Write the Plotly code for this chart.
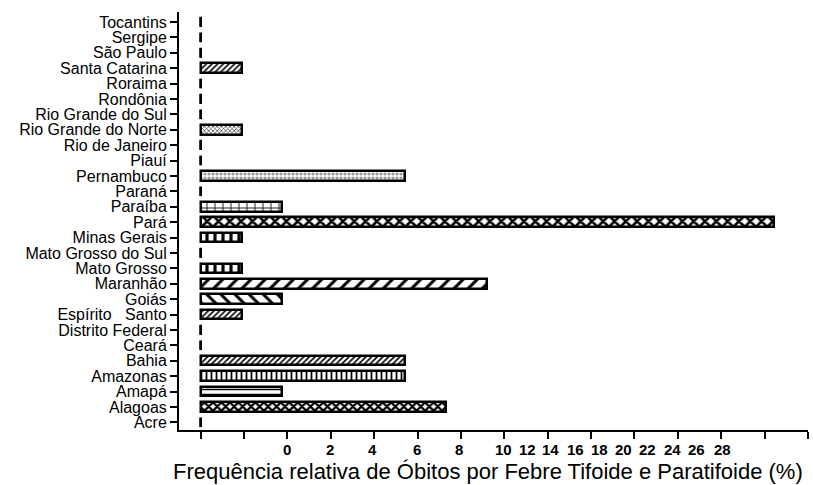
import plotly.graph_objects as go

# Brazilian states, bottom to top
states = [
    "Acre", "Alagoas", "Amapá", "Amazonas", "Bahia", "Ceará", "Distrito Federal",
    "Espírito   Santo", "Goiás", "Maranhão", "Mato Grosso", "Mato Grosso do Sul",
    "Minas Gerais", "Pará", "Paraíba", "Paraná", "Pernambuco", "Piauí",
    "Rio de Janeiro", "Rio Grande do Norte", "Rio Grande do Sul", "Rondônia",
    "Roraima", "Santa Catarina", "São Paulo", "Sergipe", "Tocantins",
]

# Relative frequency of deaths (%)
freq = [
    0.00, 11.32, 3.77, 9.43, 9.43, 0.00, 0.00,
    1.89, 3.77, 13.21, 1.89, 0.00,
    1.89, 26.42, 3.77, 0.00, 9.43, 0.00,
    0.00, 1.89, 0.00, 0.00,
    0.00, 1.89, 0.00, 0.00, 0.00,
]

tick_values = list(range(0, 29, 2))
tick_labels = ["0", "2", "4", "6", "8", "10", "12", "14", "16", "18",
               "20", "22", "24", "26", "28"]

# where the bold value labels sit along the axis (data units)
label_pos = [3.96, 5.96, 7.94, 9.97, 11.9, 13.95, 15.05, 16.15, 17.27, 18.38,
             19.5, 20.62, 21.73, 22.84, 24.05]

x_title = "Frequência relativa de Óbitos por Febre Tifoide e Paratifoide (%)"

# fill pattern per state: (shape, size, solidity, colour)
hatch = {
    "Alagoas": ("x", 6, 0.6, "black"),
    "Amapá": ("-", 5, 0.3, "black"),
    "Amazonas": ("|", 5, 0.35, "black"),
    "Bahia": ("/", 4, 0.4, "black"),
    "Espírito   Santo": ("/", 4, 0.4, "black"),
    "Goiás": ("\\", 10, 0.3, "black"),
    "Maranhão": ("/", 10, 0.3, "black"),
    "Mato Grosso": ("|", 8, 0.4, "black"),
    "Minas Gerais": ("|", 8, 0.4, "black"),
    "Pará": ("x", 8, 0.55, "black"),
    "Paraíba": ("+", 8, 0.2, "black"),
    "Pernambuco": (".", 4, 0.5, "#9a9a9a"),
    "Rio Grande do Norte": ("x", 3, 0.4, "#333333"),
    "Santa Catarina": ("/", 4, 0.4, "black"),
}

NONE = ("", 8, 0.3, "black")
shapes_ = [hatch.get(s, NONE)[0] for s in states]
sizes_ = [hatch.get(s, NONE)[1] for s in states]
solid_ = [hatch.get(s, NONE)[2] for s in states]
fgcol_ = [hatch.get(s, NONE)[3] for s in states]

BAR_W = 0.62
FONT = "Liberation Sans, Arial, sans-serif"
X_RANGE = [-1.0, 28.0]

fig = go.Figure()
fig.add_trace(go.Bar(
    x=freq, y=states, orientation="h", width=BAR_W,
    marker=dict(
        color="white",
        line=dict(color="black", width=2.5),
        pattern=dict(shape=shapes_, size=sizes_, solidity=solid_,
                     fgcolor=fgcol_, bgcolor="white", fillmode="replace"),
    ),
    showlegend=False, hoverinfo="x+y",
))

# zero-length bars keep their outline at the origin
for i, v in enumerate(freq):
    if v == 0:
        fig.add_shape(type="line", xref="x", yref="y",
                      x0=v, x1=v, y0=i - BAR_W / 2, y1=i + BAR_W / 2,
                      line=dict(color="black", width=2.5))

# bold value labels under the x axis
notes = [
    dict(text=t, xref="x", yref="paper", x=p, y=0,
         xanchor="center", yanchor="top", yshift=-10, showarrow=False,
         borderpad=0,
         font=dict(family=FONT, size=15, color="black", weight="bold"))
    for t, p in zip(tick_labels, label_pos)
]
# axis title
notes.append(dict(
    text=x_title,
    xref="paper", yref="paper", x=0.5, y=0, xanchor="center", yanchor="top",
    xshift=-6, yshift=-28, showarrow=False, borderpad=0,
    font=dict(family=FONT, size=22, color="black"),
))

fig.update_layout(
    width=813, height=485,
    margin=dict(l=179, r=5, t=12, b=55),
    paper_bgcolor="white", plot_bgcolor="white",
    font=dict(family=FONT, color="black"),
    bargap=0,
    xaxis=dict(
        range=X_RANGE, tickvals=tick_values, showticklabels=False,
        ticks="outside", ticklen=7, tickwidth=2, tickcolor="black",
        showline=True, linewidth=2, linecolor="black",
        showgrid=False, zeroline=False, fixedrange=True,
    ),
    yaxis=dict(
        type="category", categoryorder="array", categoryarray=states,
        tickmode="array", tickvals=states, ticktext=states,
        range=[-0.5, 26.65],
        ticks="outside", ticklen=7, tickwidth=2, tickcolor="black",
        tickfont=dict(family=FONT, size=16, color="black"),
        showline=True, linewidth=2, linecolor="black",
        showgrid=False, zeroline=False, fixedrange=True,
    ),
    annotations=notes,
)

fig.write_html("out.html")
